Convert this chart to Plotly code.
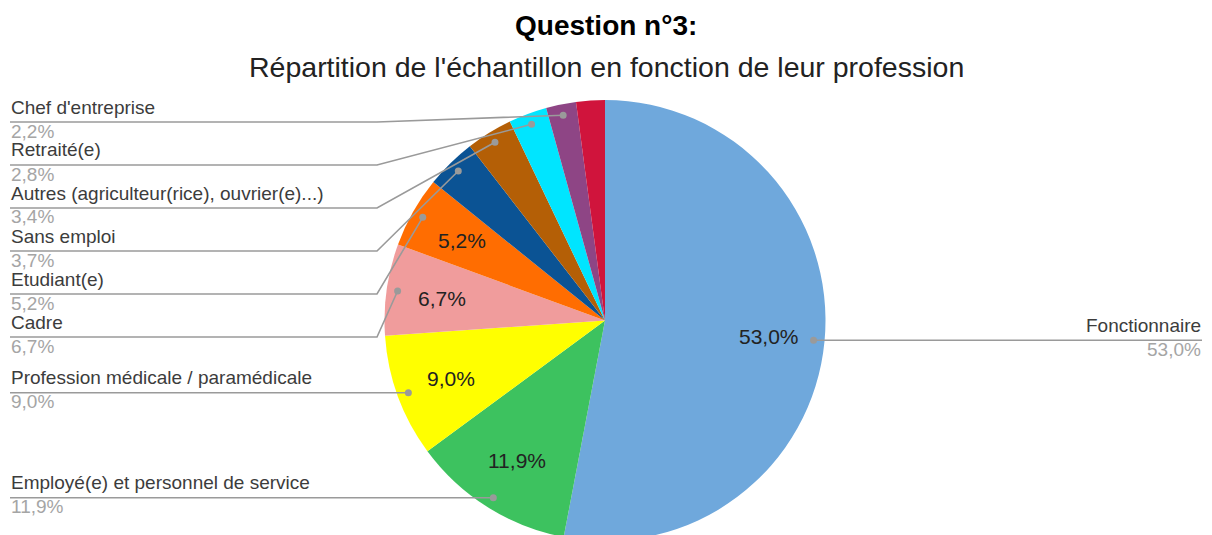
import math
import plotly.graph_objects as go

# ---------------- data ----------------
categories = [
    "Fonctionnaire",
    "Employé(e) et personnel de service",
    "Profession médicale / paramédicale",
    "Cadre",
    "Etudiant(e)",
    "Sans emploi",
    "Autres (agriculteur(rice), ouvrier(e)...)",
    "Retraité(e)",
    "Chef d'entreprise",
    "Artisan / commerçant",
]
values = [53.0, 11.9, 9.0, 6.7, 5.2, 3.7, 3.4, 2.8, 2.2, 2.1]
colors = ["#6fa8dc", "#3dc25f", "#ffff00", "#f09c9c", "#ff6d01",
          "#0b5394", "#b45f06", "#00e5ff", "#8e4585", "#d0143c"]
show_label = [True, True, True, True, True, True, True, True, True, False]

# ---------------- geometry (page pixels) ----------------
OFF = 8                          # default body margin of the html page
W, H = 1212 - OFF, 541 - OFF     # pie slightly overflows the 535 px window, as in the reference
TOP = 100.0                      # top of pie (page px)
BOTTOM = H + OFF                 # bottom of pie (page px)
R = (BOTTOM - TOP) / 2.0         # pie radius
CX, CY = 605.0, TOP + R          # pie centre (page px)

def px(x):
    return (x - OFF) / W

def py(y):
    return 1.0 - (y - OFF) / H

fig = go.Figure()
fig.add_trace(go.Pie(
    labels=categories,
    values=values,
    sort=False,
    direction="clockwise",
    rotation=0,
    marker=dict(colors=colors, line=dict(width=0)),
    textinfo="none",
    hoverinfo="label+percent",
    showlegend=False,
    domain=dict(x=[px(CX - R), px(CX + R)], y=[0, py(TOP)]),
))

def fmt(v):
    return f"{v:.1f}".replace(".", ",") + "%"

total = sum(values)
mids = []
acc = 0.0
for v in values:
    mids.append((acc + v / 2) / total * 2 * math.pi)
    acc += v

def polar(theta, r):
    return CX + r * math.sin(theta), CY - r * math.cos(theta)

shapes = []
annotations = []

LINE_COLOR = "#9a9a9a"
NAME_COLOR = "#3c3c3c"
PCT_COLOR = "#a5a5a5"
FONT = "Liberation Sans, Arial, sans-serif"
FS = 19

# inside percentages
for i, v in enumerate(values):
    if v >= 5.0:
        x, y = polar(mids[i], 0.745 * R)
        annotations.append(dict(
            x=px(x), y=py(y + 1), xref="paper", yref="paper",
            text=fmt(v), showarrow=False,
            font=dict(family=FONT, size=21, color="#222222"),
            xanchor="center", yanchor="middle"))

# leader labels
LEFT_X, ELBOW_X, RIGHT_X = 10.0, 377.0, 1202.0
TOP_LINE, GAP = 122.0, 43.0
R_DOT = 0.95 * R

left_idx = [i for i in range(len(values)) if show_label[i] and math.sin(mids[i]) < 0]
left_idx.sort(key=lambda i: polar(mids[i], R_DOT)[1])
line_y = {}
prev = None
for i in left_idx:
    dy = polar(mids[i], R_DOT)[1]
    y = max(dy, TOP_LINE if prev is None else prev + GAP)
    line_y[i] = y
    prev = y
right_idx = [i for i in range(len(values)) if show_label[i] and math.sin(mids[i]) >= 0]
for i in right_idx:
    line_y[i] = polar(mids[i], R_DOT)[1]

def add_dot(x, y):
    shapes.append(dict(type="circle", xref="paper", yref="paper",
                       x0=px(x - 3.5), x1=px(x + 3.5), y0=py(y + 3.5), y1=py(y - 3.5),
                       fillcolor=LINE_COLOR, line=dict(width=0), layer="above"))

def add_texts(i, x, ly, anchor):
    annotations.append(dict(x=px(x), y=py(ly - 15), xref="paper", yref="paper",
                            text=categories[i], showarrow=False, xanchor=anchor, yanchor="middle",
                            font=dict(family=FONT, size=FS, color=NAME_COLOR)))
    annotations.append(dict(x=px(x), y=py(ly + 9), xref="paper", yref="paper",
                            text=fmt(values[i]), showarrow=False, xanchor=anchor, yanchor="middle",
                            font=dict(family=FONT, size=FS, color=PCT_COLOR)))

for i in left_idx:
    dx, dy = polar(mids[i], R_DOT)
    ly = line_y[i]
    path = f"M {px(LEFT_X)} {py(ly)} L {px(ELBOW_X)} {py(ly)} L {px(dx)} {py(dy)}"
    shapes.append(dict(type="path", xref="paper", yref="paper", path=path,
                       line=dict(color=LINE_COLOR, width=1.6), layer="above"))
    add_dot(dx, dy)
    add_texts(i, LEFT_X - 1, ly, "left")

for i in right_idx:
    dx, dy = polar(mids[i], R_DOT)
    ly = line_y[i]
    path = f"M {px(dx)} {py(dy)} L {px(RIGHT_X)} {py(ly)}"
    shapes.append(dict(type="path", xref="paper", yref="paper", path=path,
                       line=dict(color=LINE_COLOR, width=1.6), layer="above"))
    add_dot(dx, dy)
    add_texts(i, RIGHT_X + 1, ly, "right")

# titles
annotations.append(dict(x=px(606), y=py(25), xref="paper", yref="paper",
                        text="<b>Question n°3:</b>", showarrow=False,
                        xanchor="center", yanchor="middle",
                        font=dict(family=FONT, size=28, color="#000000")))
annotations.append(dict(x=px(606), y=py(67), xref="paper", yref="paper",
                        text="Répartition de l'échantillon en fonction de leur profession",
                        showarrow=False, xanchor="center", yanchor="middle",
                        font=dict(family=FONT, size=28.5, color="#222222")))

fig.update_layout(
    width=W, height=H,
    margin=dict(l=0, r=0, t=0, b=0),
    paper_bgcolor="#ffffff",
    plot_bgcolor="#ffffff",
    shapes=shapes,
    annotations=annotations,
    font=dict(family=FONT),
)

fig.write_html("out.html")
